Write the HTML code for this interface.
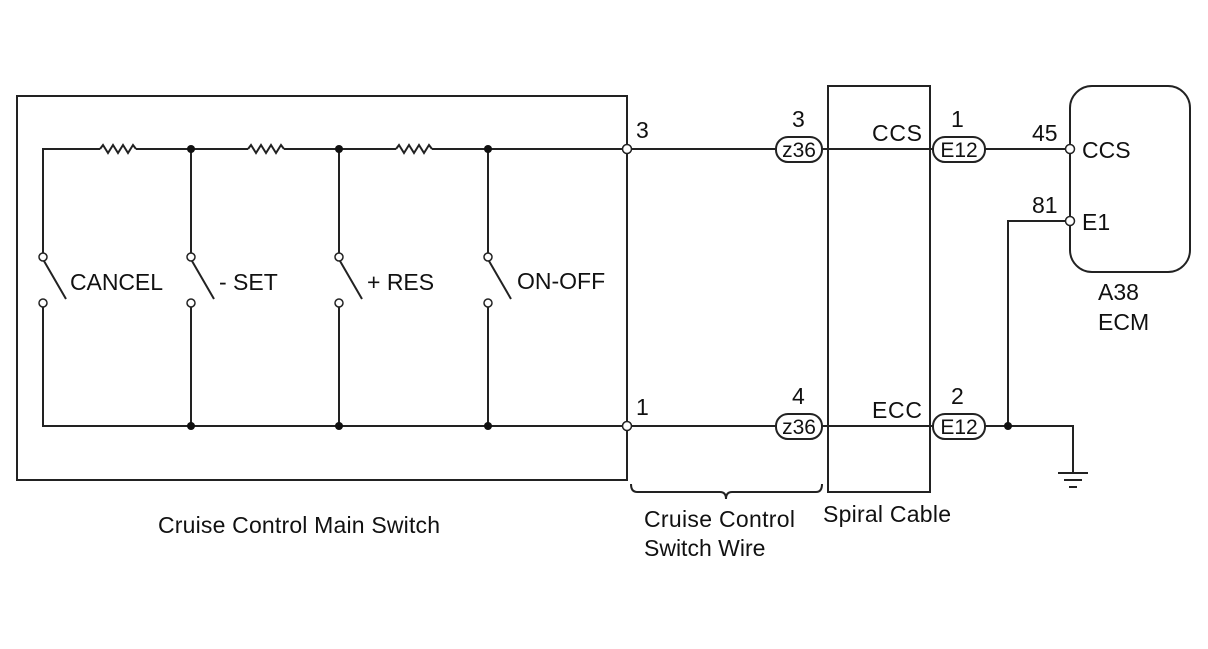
<!DOCTYPE html>
<html><head><style>
html,body{margin:0;padding:0;background:#fff;}
svg text{font-family:"Liberation Sans",Arial,sans-serif;fill:#111;}
</style></head><body>
<svg width="1208" height="644" viewBox="0 0 1208 644" xmlns="http://www.w3.org/2000/svg">
<g stroke="#222" fill="none" stroke-width="2">
<rect x="17" y="96" width="610" height="384"/>
<rect x="828" y="86" width="102" height="406"/>
<rect x="1070" y="86" width="120" height="186" rx="22"/>
<path d="M43 257 V149 H100 M136 149 H248 M284 149 H396 M432 149 H623"/>
<path d="M100 149 l3 -4 l5 8 l5 -8 l5 8 l5 -8 l5 8 l5 -8 l3 4 M248 149 l3 -4 l5 8 l5 -8 l5 8 l5 -8 l5 8 l5 -8 l3 4 M396 149 l3 -4 l5 8 l5 -8 l5 8 l5 -8 l5 8 l5 -8 l3 4"/>
<path d="M191 149 V253 M339 149 V253 M488 149 V253"/>
<path d="M43 307 V426 H623 M191 307 V426 M339 307 V426 M488 307 V426"/>
<path d="M44 261 L66 299 M192 261 L214 299 M340 261 L362 299 M489 261 L511 299"/>
<path d="M631 149 H777 M631 426 H777 M821 149 H934 M821 426 H934 M984 149 H1066 M984 426 H1073 V473 M1066 221 H1008 V426"/>
<path d="M1058 473 H1088 M1064 480 H1082 M1069 487 H1077"/>
<path d="M631 484 q0 8 6 8 H720 q6 0 6 7 q0 -7 6 -7 H816 q6 0 6 -8"/>
<rect x="776" y="137" width="46" height="25" rx="12"/>
<rect x="776" y="414" width="46" height="25" rx="12"/>
<rect x="933" y="137" width="52" height="25" rx="12"/>
<rect x="933" y="414" width="52" height="25" rx="12"/>
</g>
<g stroke="#222" stroke-width="1.5" fill="#fff">
<circle cx="627" cy="149" r="4.5"/><circle cx="627" cy="426" r="4.5"/>
<circle cx="1070" cy="149" r="4.5"/><circle cx="1070" cy="221" r="4.5"/>
<circle cx="43" cy="257" r="4"/><circle cx="43" cy="303" r="4"/>
<circle cx="191" cy="257" r="4"/><circle cx="191" cy="303" r="4"/>
<circle cx="339" cy="257" r="4"/><circle cx="339" cy="303" r="4"/>
<circle cx="488" cy="257" r="4"/><circle cx="488" cy="303" r="4"/>
</g>
<g fill="#111">
<circle cx="191" cy="149" r="4"/><circle cx="339" cy="149" r="4"/><circle cx="488" cy="149" r="4"/>
<circle cx="191" cy="426" r="4"/><circle cx="339" cy="426" r="4"/><circle cx="488" cy="426" r="4"/>
<circle cx="1008" cy="426" r="4"/>
</g>
<g font-size="23">
<text x="70" y="290" textLength="93">CANCEL</text>
<text x="219" y="290">- SET</text>
<text x="367" y="290">+ RES</text>
<text x="517" y="289">ON-OFF</text>
<text x="636" y="138">3</text>
<text x="636" y="415">1</text>
<text x="792" y="127">3</text>
<text x="792" y="404">4</text>
<text x="872" y="141" textLength="50">CCS</text>
<text x="872" y="418" textLength="50">ECC</text>
<text x="951" y="127">1</text>
<text x="951" y="404">2</text>
<text x="1032" y="141">45</text>
<text x="1032" y="213">81</text>
<text x="1082" y="158">CCS</text>
<text x="1082" y="230">E1</text>
<text x="1098" y="300">A38</text>
<text x="1098" y="330">ECM</text>
<text x="158" y="533" textLength="282">Cruise Control Main Switch</text>
<text x="644" y="527" textLength="151">Cruise Control</text>
<text x="644" y="556">Switch Wire</text>
<text x="823" y="522" textLength="128">Spiral Cable</text>
</g>
<g font-size="21" text-anchor="middle">
<text x="799" y="157">z36</text>
<text x="799" y="434">z36</text>
<text x="959" y="157">E12</text>
<text x="959" y="434">E12</text>
</g>
</svg>
</body></html>
